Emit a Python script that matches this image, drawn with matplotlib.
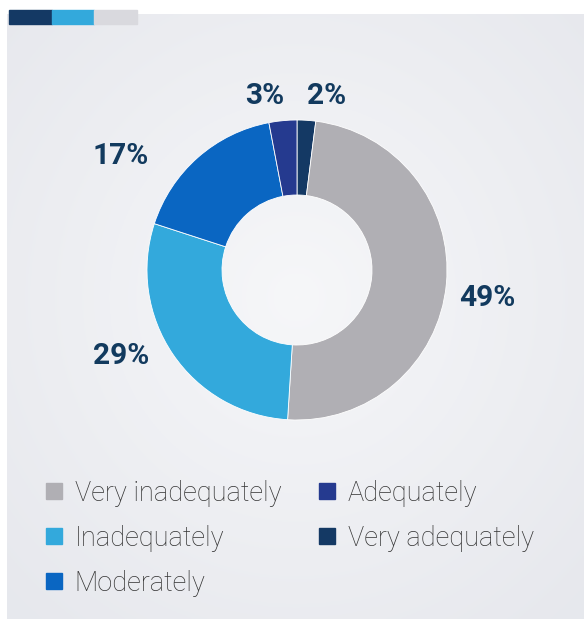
import matplotlib.pyplot as plt
import numpy as np
from matplotlib.lines import Line2D
from matplotlib.patches import Rectangle

# Data (pie order: clockwise from 12 o'clock)
categories = ["Very adequately", "Very inadequately", "Inadequately", "Moderately", "Adequately"]
shares = [2, 49, 29, 17, 3]
colors = ["#143964", "#b0afb4", "#33a9dc", "#0a66c2", "#253a8f"]
legend_order = ["Very inadequately", "Inadequately", "Moderately", "Adequately", "Very adequately"]

W, H = 584, 619
plt.rcParams["font.family"] = ["Roboto", "DejaVu Sans"]

fig = plt.figure(figsize=(W / 100, H / 100), dpi=100, facecolor="white")

# Background panel with a soft radial gradient
bg = fig.add_axes([7 / W, 0, (W - 7) / W, (H - 14) / H])
yy, xx = np.mgrid[0:300, 0:300]
r = np.hypot((xx - 150) / 150, (yy - 140) / 150)
shade = np.clip(r, 0, 1.4) / 1.4
c0 = np.array([0.965, 0.968, 0.976])
c1 = np.array([0.905, 0.910, 0.930])
img = c0 + (c1 - c0) * shade[..., None]
bg.imshow(img, aspect="auto", extent=[0, 1, 0, 1])
bg.axis("off")

# Decorative colour strip at the top
for x0, x1, c in [(9, 52, "#143964"), (52, 94, "#33a9dc"), (94, 137, "#d9d9de")]:
    fig.patches.append(Rectangle((x0 / W, 1 - 24 / H), (x1 - x0) / W, 14 / H,
                                 transform=fig.transFigure, color=c, zorder=5))

# Donut chart in pixel coordinates (y up)
ax = fig.add_axes([0, 0, 1, 1])
ax.patch.set_alpha(0)
cx, cy, R = 297, H - 270, 150
wedges, _ = ax.pie(shares, colors=colors, startangle=90, counterclock=False,
                   center=(cx, cy), radius=R,
                   wedgeprops=dict(width=75, edgecolor="white", linewidth=0.6))
ax.set_xlim(0, W)
ax.set_ylim(0, H)
ax.set_aspect("equal")
ax.axis("off")

# Percentage labels (pixel positions from the top-left corner)
label_pos = [(327, 96), (487, 298), (121, 356), (121, 156), (265, 96)]
for (px, py), v in zip(label_pos, shares):
    ax.text(px, H - py, f"{v}%", ha="center", va="center", fontsize=21.5,
            fontweight="bold", color="#123a5e")

# Legend
handles = {
    cat: Line2D([], [], linestyle="none", marker="s", markersize=11,
                markerfacecolor=col, markeredgecolor=col)
    for cat, col in zip(categories, colors)
}
leg = fig.legend([handles[c] for c in legend_order], legend_order, ncol=2,
                 loc="upper left", bbox_to_anchor=(30 / W, 1 - 466 / H),
                 frameon=False, fontsize=19.5, handlelength=0.75, handletextpad=0.4,
                 columnspacing=1.3, labelspacing=0.67, borderpad=0)
for t in leg.get_texts():
    t.set_color("#333333")
    t.set_fontweight("light")

fig.savefig("out.png", dpi=100)
